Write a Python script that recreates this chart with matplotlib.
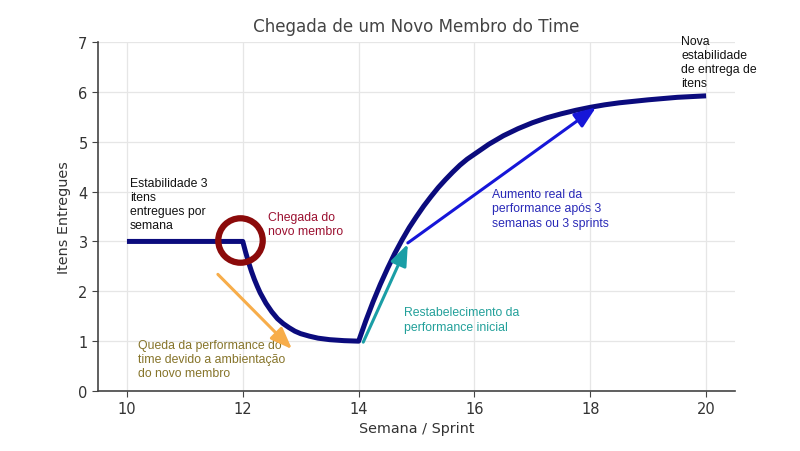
import matplotlib
matplotlib.use("Agg")
import matplotlib.pyplot as plt

# Data
x_flat = [10.0, 12.0]
y_flat = [3.0, 3.0]
x_drop = [12.0, 12.05, 12.1, 12.15, 12.2, 12.25, 12.3, 12.4, 12.5, 12.6, 12.7, 12.8, 12.9,
          13.0, 13.15, 13.3, 13.5, 13.75, 14.0]
y_drop = [3.0, 2.78, 2.58, 2.40, 2.24, 2.10, 1.97, 1.76, 1.59, 1.45, 1.35, 1.27, 1.20,
          1.15, 1.10, 1.06, 1.03, 1.01, 1.0]
x_rise = [14.0, 14.125, 14.25, 14.375, 14.5, 14.625, 14.75, 14.875, 15.0, 15.125, 15.25,
          15.375, 15.5, 15.625, 15.75, 15.875, 16.0, 16.25, 16.5, 16.75, 17.0, 17.25, 17.5,
          17.75, 18.0, 18.25, 18.5, 18.75, 19.0, 19.5, 20.0]
y_rise = [1.0, 1.41, 1.79, 2.14, 2.46, 2.76, 3.03, 3.28, 3.50, 3.71, 3.90, 4.08, 4.24,
          4.39, 4.53, 4.65, 4.75, 4.95, 5.12, 5.26, 5.38, 5.48, 5.56, 5.63, 5.69, 5.74,
          5.78, 5.81, 5.84, 5.89, 5.92]

x_ticks = [10, 12, 14, 16, 18, 20]
y_ticks = [0, 1, 2, 3, 4, 5, 6, 7]

title = "Chegada de um Novo Membro do Time"
xlabel = "Semana / Sprint"
ylabel = "Itens Entregues"

x_all = x_flat + x_drop[1:] + x_rise[1:]
y_all = y_flat + y_drop[1:] + y_rise[1:]

fig = plt.figure(figsize=(8, 4.52), dpi=100)
ax = fig.add_axes([0.1225, 0.1327, 0.7963, 0.7722])

ax.plot(x_all, y_all, color="#0b0b7d", lw=3.6, solid_capstyle="butt",
        solid_joinstyle="round", zorder=3)

ax.set_xlim(9.5, 20.5)
ax.set_ylim(0, 7)
ax.set_xticks(x_ticks)
ax.set_yticks(y_ticks)
ax.grid(True, color="#e6e6e6", lw=0.9)
ax.set_axisbelow(True)
for s in ["top", "right"]:
    ax.spines[s].set_visible(False)
for s in ["left", "bottom"]:
    ax.spines[s].set_color("#444444")
    ax.spines[s].set_linewidth(1.2)
ax.tick_params(colors="#444444", labelcolor="#333333", labelsize=10.5, length=4)
ax.set_xlabel(xlabel, fontsize=10.4, color="#333333", labelpad=3)
ax.set_ylabel(ylabel, fontsize=10.4, color="#333333", labelpad=5)
ax.set_title(title, fontsize=12.1, color="#444444", pad=8)

# circle marking arrival
ax.plot([11.95], [3.02], marker="o", ms=32, mfc="none", mec="#8b0a0a", mew=4.5, zorder=4)

# arrows
def arrow(x0, y0, x1, y1, color, lw):
    ax.annotate("", xy=(x1, y1), xytext=(x0, y0),
                arrowprops=dict(arrowstyle="-|>,head_length=1.3,head_width=0.5",
                                color=color, lw=lw, shrinkA=0, shrinkB=0), zorder=5)

arrow(11.57, 2.34, 12.85, 0.84, "#f7ad4a", 2.2)
arrow(14.08, 0.98, 14.85, 2.95, "#1a9ea6", 2.2)
arrow(14.85, 2.97, 18.1, 5.69, "#1616d8", 2.2)

tf = ["Liberation Sans", "DejaVu Sans"]
fs = 8.8
ls = 1.25
ax.text(10.05, 4.3, "Estabilidade 3\nitens\nentregues por\nsemana", fontsize=fs,
        color="#111111", va="top", ha="left", family=tf, linespacing=ls)
ax.text(12.43, 3.62, "Chegada do\nnovo membro", fontsize=fs, color="#9b1030",
        va="top", ha="left", family=tf, linespacing=ls)
ax.text(10.19, 1.05, "Queda da performance do\ntime devido a ambientação\ndo novo membro",
        fontsize=fs, color="#86742a", va="top", ha="left", family=tf, linespacing=ls)
ax.text(14.78, 1.70, "Restabelecimento da\nperformance inicial", fontsize=fs,
        color="#22a09a", va="top", ha="left", family=tf, linespacing=ls)
ax.text(16.3, 4.07, "Aumento real da\nperformance após 3\nsemanas ou 3 sprints", fontsize=fs,
        color="#2a2ab8", va="top", ha="left", family=tf, linespacing=ls)
ax.text(19.57, 7.15, "Nova\nestabilidade\nde entrega de\nitens", fontsize=fs,
        color="#111111", va="top", ha="left", family=tf, linespacing=ls, clip_on=False)

fig.savefig("out.png", dpi=100)
